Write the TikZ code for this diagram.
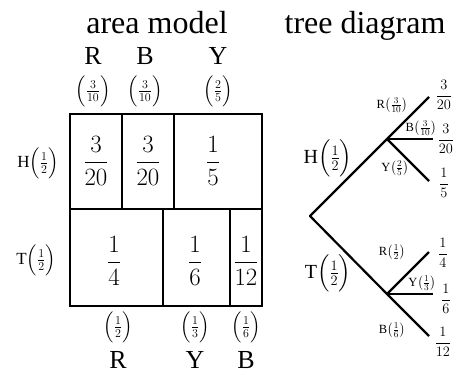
\documentclass[tikz,border=0pt]{standalone}
\usepackage{amsmath}
\usepackage{fontspec}
\setmainfont{Liberation Serif}
\newcommand{\pfrB}[2]{$\Bigl(\frac{#1}{#2}\Bigr)$}
\newcommand{\pfrb}[2]{$\bigl(\frac{#1}{#2}\bigr)$}
\newcommand{\dfr}[2]{$\dfrac{#1}{#2}$}
\begin{document}
\begin{tikzpicture}[x=1pt,y=-1pt,
  outer/.style={draw=black,line width=2.4pt},
  inner/.style={draw=black,line width=1.6pt},
  branch/.style={draw=black,line width=2.2pt},
  title/.style={font=\fontsize{32}{38}\selectfont,anchor=base,inner sep=0pt},
  collab/.style={font=\fontsize{26}{31}\selectfont,anchor=base,inner sep=0pt,text depth=0pt},
  colfrac/.style={font=\fontsize{18}{21.6}\selectfont,inner sep=0pt},
  rowlab/.style={font=\fontsize{17}{20.4}\selectfont,inner sep=0pt},
  cell/.style={font=\fontsize{25}{30}\selectfont,inner sep=0pt},
  treelab/.style={font=\fontsize{20}{24}\selectfont,inner sep=0pt},
  smalllab/.style={font=\fontsize{12.5}{15}\selectfont,inner sep=0pt},
  leaf/.style={font=\fontsize{14}{17}\selectfont,inner sep=0pt}]
\useasboundingbox (0,0) rectangle (455,373);
% titles
\node[title] (t1) at (157,33) {area model};
\node[title] (t2) at (365,33) {tree diagram};
% column labels
\node[collab] (cR) at (93,64) {R};
\node[collab] (cB) at (145,64) {B};
\node[collab] (cY) at (218,64) {Y};
\node[colfrac] (fR) at (93,91) {\pfrB{3}{10}};
\node[colfrac] (fB) at (145,91) {\pfrB{3}{10}};
\node[colfrac] (fY) at (218,91) {\pfrB{2}{5}};
% row labels
\node[rowlab] (rH) at (38,163) {H\pfrB{1}{2}};
\node[rowlab] (rT) at (36,260) {T\pfrB{1}{2}};
% area rectangles
\draw[inner] (122,114) -- (122,209);
\draw[inner] (174,114) -- (174,209);
\draw[inner] (163,209) -- (163,306);
\draw[inner] (230,209) -- (230,306);
\draw[outer] (70,209) -- (262,209);
\draw[outer] (70,114) rectangle (262,306);
% cells
\node[cell] (c1) at (96,161) {\dfr{3}{20}};
\node[cell] (c2) at (148,161) {\dfr{3}{20}};
\node[cell] (c3) at (213,161) {\dfr{1}{5}};
\node[cell] (c4) at (114,261) {\dfr{1}{4}};
\node[cell] (c5) at (195,261) {\dfr{1}{6}};
\node[cell] (c6) at (246,261) {\dfr{1}{12}};
% bottom labels
\node[colfrac] (bR) at (118,327) {\pfrB{1}{2}};
\node[colfrac] (bY) at (195,327) {\pfrB{1}{3}};
\node[colfrac] (bB) at (246,327) {\pfrB{1}{6}};
\node[collab] (lR) at (118,368) {R};
\node[collab] (lY) at (195,368) {Y};
\node[collab] (lB) at (246,368) {B};
% tree
\coordinate (root) at (310,216);
\coordinate (H) at (387,139);
\coordinate (T) at (387,294);
\coordinate (HR) at (429,97);
\coordinate (HB) at (433,139);
\coordinate (HY) at (429,181);
\coordinate (TR) at (429,252);
\coordinate (TY) at (433,294);
\coordinate (TB) at (429,336);
\draw[branch,line cap=round] (root) -- (H);
\draw[branch,line cap=round] (root) -- (T);
\draw[branch] (H) -- (HR);
\draw[branch] (H) -- (HB);
\draw[branch] (H) -- (HY);
\draw[branch] (T) -- (TR);
\draw[branch] (T) -- (TY);
\draw[branch] (T) -- (TB);
\node[treelab] (lH) at (328,158) {H\pfrB{1}{2}};
\node[treelab] (lT) at (328,273) {T\pfrB{1}{2}};
\node[smalllab] (sHR) at (392,105) {R\pfrb{3}{10}};
\node[smalllab] (sHB) at (421,128) {B\pfrb{3}{10}};
\node[smalllab] (sHY) at (395,168) {Y\pfrb{2}{5}};
\node[smalllab] (sTR) at (392,252) {R\pfrb{1}{2}};
\node[smalllab] (sTY) at (422,283) {Y\pfrb{1}{3}};
\node[smalllab] (sTB) at (392,330) {B\pfrb{1}{6}};
\node[leaf] (pHR) at (444,95) {\dfr{3}{20}};
\node[leaf] (pHB) at (446,139) {\dfr{3}{20}};
\node[leaf] (pHY) at (444,183) {\dfr{1}{5}};
\node[leaf] (pTR) at (443,253) {\dfr{1}{4}};
\node[leaf] (pTY) at (446,299) {\dfr{1}{6}};
\node[leaf] (pTB) at (443,342) {\dfr{1}{12}};
\end{tikzpicture}
\end{document}
